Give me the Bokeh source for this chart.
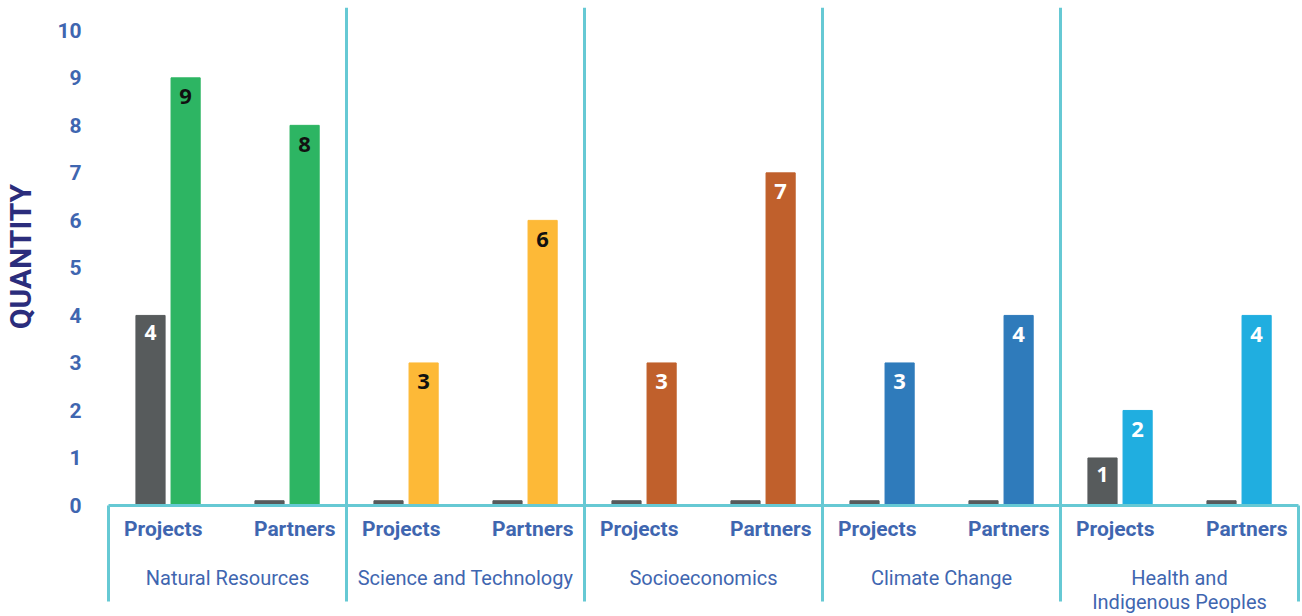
from bokeh.plotting import figure
from bokeh.models import ColumnDataSource, FixedTicker, LinearAxis, Range1d
from bokeh.core.properties import value
from bokeh.embed import file_html
from bokeh.resources import INLINE

# ---- data ----
groups = ["Natural Resources", "Science and Technology", "Socioeconomics",
          "Climate Change", "Health and\nIndigenous Peoples"]
subgroups = ["Projects", "Partners"]
grey_values = [4, 0, 0, 0, 0, 0, 0, 0, 1, 0]
colour_values = [9, 8, 3, 6, 3, 7, 3, 4, 2, 4]
group_colours = ["#2db563", "#fdb937", "#c0602c", "#2f7bbb", "#20aee0"]
label_colours = ["#111111", "#111111", "#ffffff", "#ffffff", "#ffffff"]
y_ticks = list(range(0, 11))
y_title = "QUANTITY"

# ---- derived ----
n = len(grey_values)
centres = [i + 0.5 for i in range(n)]
grey_x = [c - 0.147 for c in centres]
col_x = [c + 0.148 for c in centres]
grey_h = [max(v, 0.1) for v in grey_values]
bar_colours = [group_colours[i // 2] for i in range(n)]
txt_colours = [label_colours[i // 2] for i in range(n)]

grey_src = ColumnDataSource(dict(x=grey_x, top=grey_h, v=grey_values,
                                 lab=[str(v) if v > 0 else "" for v in grey_values]))
col_src = ColumnDataSource(dict(x=col_x, top=colour_values, c=bar_colours, tc=txt_colours,
                                lab=[str(v) for v in colour_values]))

p = figure(width=1302, height=616, output_backend="svg", toolbar_location=None,
           x_range=Range1d(0, 10), y_range=Range1d(0, 10.48),
           min_border_left=108, min_border_right=4, min_border_top=7, min_border_bottom=109,
           x_axis_location=None)
p.outline_line_color = None
p.background_fill_color = "white"
p.border_fill_color = "white"

# grid: vertical separators between groups
p.xgrid.ticker = FixedTicker(ticks=[2, 4, 6, 8])
p.xgrid.grid_line_color = "#66c9d4"
p.xgrid.grid_line_width = 3
p.ygrid.grid_line_color = None

W = 0.245
p.vbar(x="x", top="top", bottom=0, width=W, source=grey_src, color="#575b5c")
p.vbar(x="x", top="top", bottom=0, width=W, source=col_src, color="c")

p.text(x="x", y="v", text="lab", source=grey_src, text_color="#ffffff",
       text_font=value("Open Sans"), text_font_style="bold", text_font_size="21px",
       text_align="center", text_baseline="middle", y_offset=17)
p.text(x="x", y="top", text="lab", source=col_src, text_color="tc",
       text_font=value("Open Sans"), text_font_style="bold", text_font_size="22px",
       text_align="center", text_baseline="middle", y_offset=19)

# y axis
ya = p.yaxis[0]
ya.ticker = FixedTicker(ticks=y_ticks)
ya.axis_line_color = None
ya.major_tick_line_color = None
ya.minor_tick_line_color = None
ya.major_tick_out = 0
ya.major_tick_in = 0
ya.minor_tick_out = 0
ya.minor_tick_in = 0
ya.major_label_standoff = 27
ya.major_label_text_font = "Roboto"
ya.major_label_text_font_style = "bold"
ya.major_label_text_font_size = "21px"
ya.major_label_text_color = "#3f66b0"
ya.axis_label = y_title
ya.axis_label_text_font = "Roboto"
ya.axis_label_text_font_style = "bold"
ya.axis_label_text_font_size = "30px"
ya.axis_label_text_color = "#2b2d7c"
ya.axis_label_standoff = 16

# x axis 1: sub-group labels, with separator ticks below the baseline
SEP = 96
sub_ticks = []
sub_over = {}
for g in range(len(groups)):
    for j, s in enumerate(subgroups):
        t = 2 * g + (0.46 if j == 0 else 1.565)
        sub_ticks.append(t)
        sub_over[t] = s
xa1 = LinearAxis(ticker=FixedTicker(ticks=sub_ticks, minor_ticks=[0, 2, 4, 6, 8, 10]),
                 major_label_overrides=sub_over)
xa1.axis_line_color = "#66c9d4"
xa1.axis_line_width = 3
xa1.major_tick_line_color = None
xa1.major_tick_out = 0
xa1.major_tick_in = 0
xa1.minor_tick_line_color = "#66c9d4"
xa1.minor_tick_line_width = 3
xa1.minor_tick_out = SEP
xa1.minor_tick_in = 0
xa1.major_label_standoff = 11 - SEP
xa1.major_label_text_font = "Roboto"
xa1.major_label_text_font_style = "bold"
xa1.major_label_text_font_size = "21px"
xa1.major_label_text_color = "#3f66b0"
p.add_layout(xa1, "below")

# x axis 2: group labels
grp_ticks = [2 * g + 1 for g in range(len(groups))]
xa2 = LinearAxis(ticker=FixedTicker(ticks=grp_ticks),
                 major_label_overrides={t: groups[i] for i, t in enumerate(grp_ticks)})
xa2.axis_line_color = None
xa2.major_tick_line_color = None
xa2.minor_tick_line_color = None
xa2.major_tick_out = 0
xa2.major_tick_in = 0
xa2.minor_tick_out = 0
xa2.minor_tick_in = 0
xa2.major_label_standoff = 22
xa2.major_label_text_font = "Roboto"
xa2.major_label_text_font_size = "20px"
xa2.major_label_text_color = "#3f66b0"
xa2.major_label_text_line_height = 1.0
p.add_layout(xa2, "below")

open("out.html", "w").write(file_html(p, INLINE))
